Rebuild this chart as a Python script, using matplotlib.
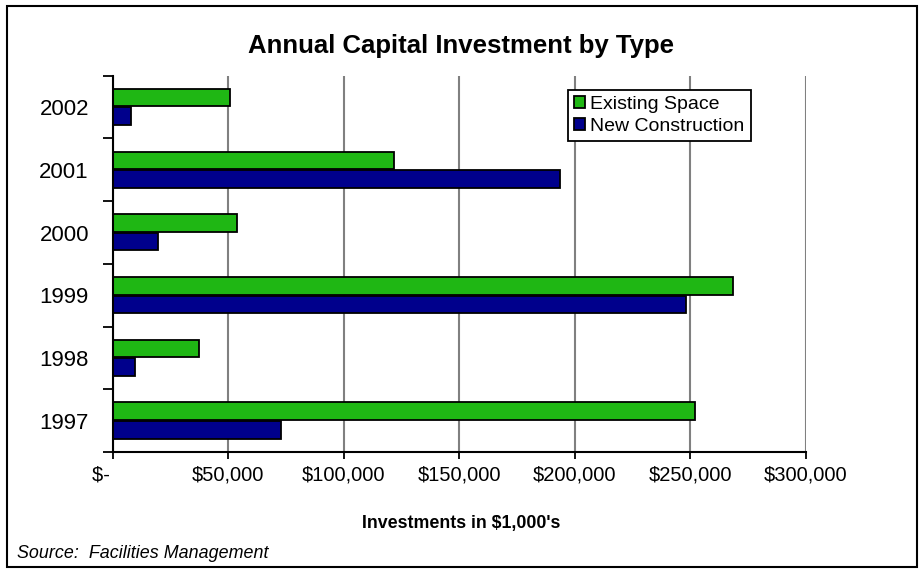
"""Annual capital investment by type, horizontal grouped bars."""

import numpy as np
import matplotlib
matplotlib.use("Agg")
import matplotlib.pyplot as plt
from matplotlib.patches import Rectangle

plt.rcParams["font.family"] = ["Liberation Sans", "DejaVu Sans"]

# --- data (in $1,000's) --------------------------------------------------------

years    = ["1997", "1998", "1999", "2000", "2001", "2002"]
existing = [252000, 37200, 268500, 53700, 121800, 51000]
new_con  = [72700, 9700, 248000, 19700, 193600, 7900]
xticks   = [0, 50000, 100000, 150000, 200000, 250000, 300000]
xlabels  = ["$-    ", "$50,000", "$100,000", "$150,000", "$200,000", "$250,000", "$300,000"]

GREEN = "#1fb714"
NAVY  = "#00008c"

# --- figure --------------------------------------------------------------------

fig = plt.figure(figsize=(9.23, 5.75), dpi=100)
fig.patches.append(Rectangle((0.008, 0.014), 0.985, 0.975, transform=fig.transFigure,
                             fill=False, edgecolor="black", linewidth=1.5))

ax = fig.add_axes([0.1219, 0.2139, 0.7513, 0.6544])

y = np.arange(len(years))
h = 0.28
ax.barh(y + 0.15, existing, height=h, color=GREEN, edgecolor="black",
        linewidth=1.3, label="Existing Space", zorder=3)
ax.barh(y - 0.145, new_con, height=h, color=NAVY, edgecolor="black",
        linewidth=1.3, label="New Construction", zorder=3)

ax.set_xlim(0, 300000)
ax.set_ylim(-0.5, len(years) - 0.5)

ax.set_xticks(xticks)
ax.set_xticklabels(xlabels, fontsize=14.5)
ax.tick_params(axis="x", direction="out", length=5, width=1.3, pad=4.5)

ax.set_yticks(np.arange(len(years) + 1) - 0.5)
ax.set_yticklabels([])
ax.set_yticks(y, minor=True)
ax.set_yticklabels(years, minor=True, fontsize=16)
ax.tick_params(axis="y", which="major", direction="out", length=7, width=1.3)
ax.tick_params(axis="y", which="minor", length=0, pad=17)

ax.xaxis.grid(True, color="#808080", linewidth=1.5, zorder=0)
ax.set_axisbelow(True)
for s in ["top", "right"]:
    ax.spines[s].set_visible(False)
for s in ["left", "bottom"]:
    ax.spines[s].set_linewidth(1.5)
    ax.spines[s].set_zorder(4)

leg = ax.legend(loc="upper left", bbox_to_anchor=(0.657, 0.962), fontsize=14,
                frameon=True, fancybox=False, edgecolor="black", framealpha=1,
                handlelength=0.55, handleheight=0.55, handletextpad=0.3,
                borderpad=0.3, labelspacing=0.25, borderaxespad=0)
leg.get_frame().set_linewidth(1.3)

fig.text(0.5, 0.92, "Annual Capital Investment by Type", ha="center", va="center",
         fontsize=18.5, fontweight="bold")
fig.text(0.5, 0.09, "Investments in $1,000's", ha="center", va="center",
         fontsize=12.8, fontweight="bold")
fig.text(0.018, 0.038, "Source:  Facilities Management", ha="left", va="center",
         fontsize=12.9, style="italic")

fig.savefig("out.png", dpi=100)
